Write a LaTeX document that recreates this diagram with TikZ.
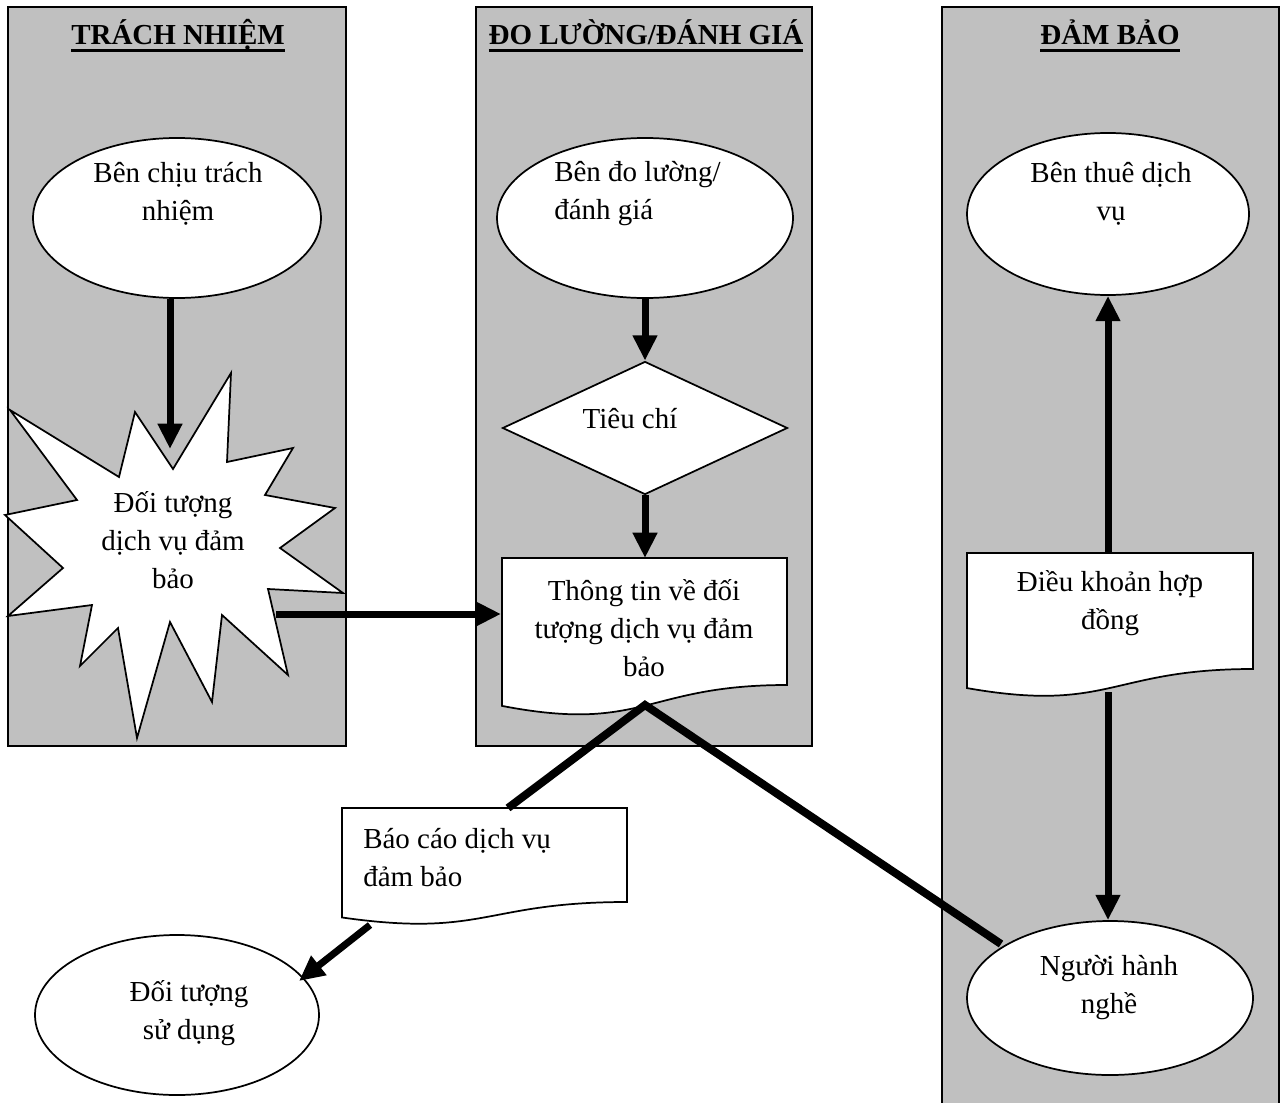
\documentclass[tikz,border=0pt]{standalone}
\usepackage{fontspec}
\setmainfont{Liberation Serif}
\usetikzlibrary{shapes.geometric,arrows.meta,calc}
\definecolor{colgrey}{RGB}{192,192,192}
\newcommand\msz{\fontsize{21.75pt}{28.5pt}\selectfont}
\newcommand\ulbold[1]{\setbox0\hbox{\bfseries #1}\rlap{\raisebox{-5.6pt}{\rule{\wd0}{2.25pt}}}\box0}
\newcommand\docshape[4]{%
  \pgfmathsetmacro\dH{(#4-#2)/0.80194}%
  \pgfmathsetmacro\dL{#2+0.93389*\dH}%
  \pgfmathsetmacro\dC{#2+1.1075*\dH}%
  \pgfmathsetmacro\dM{(#1+#3)/2}%
  \draw[shapeline] (#1,#2) -- (#3,#2) -- (#3,#4) .. controls (\dM,#4) and (\dM,\dC) .. (#1,\dL) -- cycle;}
\tikzset{
  colbox/.style={fill=colgrey, draw=black, line width=1.1pt},
  shapeline/.style={draw=black, line width=1.3pt, fill=white, line join=miter},
  ell/.style={ellipse, shapeline, inner sep=0pt},
  txt/.style={align=center, inner sep=0pt, font=\msz},
  ttl/.style={inner sep=0pt, anchor=base, font=\msz},
  arr/.style={line width=5.25pt, -{Triangle[width=17.5pt,length=19pt]}},
  link/.style={line width=6pt, line join=miter}
}
\begin{document}
\begin{tikzpicture}[x=0.75pt,y=-0.75pt]
\useasboundingbox (0,0) rectangle (1280,1102);
% columns
\path[colbox] (8,7) rectangle (346,746);
\path[colbox] (476,7) rectangle (812,746);
\path[colbox] (942,7) rectangle (1279,1115);
% titles
\node[ttl] (h1) at (178,45) {\ulbold{TRÁCH NHIỆM}};
\node[ttl] (h2) at (646,45) {\ulbold{ĐO LƯỜNG/ĐÁNH GIÁ}};
\node[ttl] (h3) at (1110,45) {\ulbold{ĐẢM BẢO}};
% star
\draw[shapeline] (135,412) -- (173,469) -- (231,373) -- (227,462) -- (293,448) -- (265,495)
  -- (335,508) -- (280,548) -- (343,593) -- (268,589) -- (288,675) -- (222,615)
  -- (212,702) -- (170,622) -- (137,738) -- (118,628) -- (80,666) -- (92,605)
  -- (8,616) -- (63,568) -- (5,515) -- (77,500) -- (10,410) -- (119,477) -- cycle;
% ellipses
\node[ell, minimum width=0.75*288pt, minimum height=0.75*160pt] (e1) at (177,218) {};
\node[ell, minimum width=0.75*296pt, minimum height=0.75*160pt] (e2) at (645,218) {};
\node[ell, minimum width=0.75*282pt, minimum height=0.75*162pt] (e3) at (1108,214) {};
\node[ell, minimum width=0.75*284pt, minimum height=0.75*160pt] (dt) at (177,1015) {};
\node[ell, minimum width=0.75*286pt, minimum height=0.75*154pt] (ng) at (1110,998) {};
% diamond
\node[diamond, shapeline, inner sep=0pt, aspect=2.14, minimum width=0.75*285pt, minimum height=0.75*133pt] (dia) at (645,428) {};
% documents
\docshape{502}{558}{787}{685}
\docshape{967}{553}{1253}{669}
\docshape{342}{808}{627}{902}
% texts
\node[txt] (e1t) at (178,194) {Bên chịu trách\\nhiệm};
\node[txt, align=left, anchor=west] (e2t) at (554,194) {Bên đo lường/\\đánh giá};
\node[txt] (e3t) at (1111,194) {Bên thuê dịch\\vụ};
\node[txt] (stt) at (173,540) {Đối tượng\\dịch vụ đảm\\bảo};
\node[txt] (diat) at (630,419) {Tiêu chí};
\node[txt] (ttt) at (644,628) {Thông tin về đối\\tượng dịch vụ đảm\\bảo};
\node[txt] (dkt) at (1110,603) {Điều khoản hợp\\đồng};
\node[txt, align=left, anchor=west] (bct) at (363,858) {Báo cáo dịch vụ\\đảm bảo};
\node[txt] (dtt) at (189,1013) {Đối tượng\\sử dụng};
\node[txt] (ngt) at (1109,988) {Người hành\\nghề};
% connector end points
\coordinate (tt-top) at (645,558);
\coordinate (tt-west) at (501,614);
\coordinate (tt-bot) at (645,705);
\coordinate (bc-top) at (508,808);
\coordinate (bc-bot) at (370,925);
\coordinate (dk-top) at (1108,553);
\coordinate (dk-bot) at (1108,692);
\coordinate (st-in) at (170,449);
\coordinate (st-out) at (276,614);
\coordinate (dt-tip) at (299,981);
\coordinate (ng-in) at (1001,944);
% connectors
\draw[arr] (e1.south -| st-in) -- (st-in);
\draw[arr] (e2.south) -- (dia.north);
\draw[arr] (dia.south) -- (tt-top);
\draw[arr] (st-out) -- (tt-west);
\draw[link] (bc-top) -- (tt-bot) -- (ng-in);
\draw[arr] (bc-bot) -- (dt-tip);
\draw[arr] (dk-top) -- (e3.south);
\draw[arr] (dk-bot) -- (dk-bot |- ng.north);
\end{tikzpicture}
\end{document}
